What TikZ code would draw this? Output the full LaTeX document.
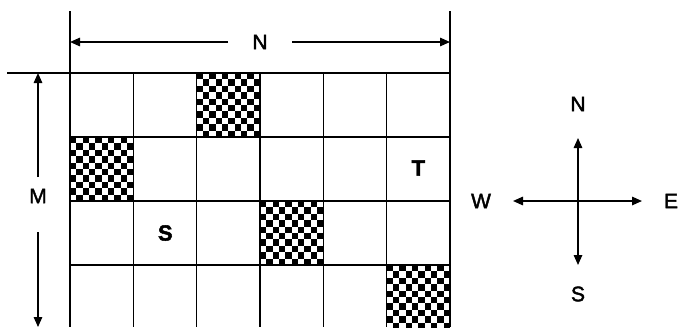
\documentclass[tikz,border=0pt]{standalone}
\usepackage{fontspec}
\setmainfont{Liberation Sans}
\newfontfamily\medfont[FakeBold=2]{Liberation Sans}
\newfontfamily\heavyfont[FakeBold=2]{Liberation Sans Bold}
\usetikzlibrary{arrows.meta}
\tikzset{
  gridline/.style={line width=1.4pt, black},
  arr/.style={line width=1.5pt, -{Triangle[length=10pt,width=8.5pt]}},
  lbl/.style={font=\fontsize{21}{25}\medfont, inner sep=0pt},
  blbl/.style={font=\fontsize{22}{26}\heavyfont, inner sep=0pt},
}
\newcommand{\chkcell}[2]{%
  \foreach \i in {0,...,9}{\foreach \j in {0,...,9}{%
    \pgfmathtruncatemacro{\chkp}{mod(\i+\j,2)}%
    \ifnum\chkp=0
      \fill[black] ({#1+\i*6.3333},{#2+\j*6.4}) rectangle ++(6.3333,6.4);
    \fi
  }}%
}
\begin{document}
\begin{tikzpicture}[x=1pt,y=-1pt]
\useasboundingbox (0,0) rectangle (679,327);
% checkered cells
\begin{scope}
\clip (0,0) rectangle (679,327);
\chkcell{196.667}{73}
\chkcell{70}{137}
\chkcell{260}{201}
\chkcell{386.667}{265}
\end{scope}
% grid
\draw[gridline] (70,11) -- (70,327);
\draw[gridline] (450,11) -- (450,327);
\draw[gridline] (7,73) -- (450,73);
\foreach \k in {1,...,5}{\draw[gridline] ({70+\k*63.333},73) -- ({70+\k*63.333},327);}
\foreach \y in {137,201,265}{\draw[gridline] (70,\y) -- (450,\y);}
% N dimension
\node[lbl] (ntop) at (260,42) {N};
\coordinate (nl0) at (228,42);
\coordinate (nr0) at (292,42);
\coordinate (nl) at (70,42);
\coordinate (nr) at (450,42);
\draw[arr] (nl0) -- (nl);
\draw[arr] (nr0) -- (nr);
% M dimension
\node[lbl] (mleft) at (38,196) {M};
\coordinate (mu0) at (38,177);
\coordinate (md0) at (38,232);
\coordinate (mu) at (38,73);
\coordinate (md) at (38,327);
\draw[arr] (mu0) -- (mu);
\draw[arr] (md0) -- (md);
% labels in grid
\node[blbl] (T) at (418.3,168) {T};
\node[blbl] (S) at (165.3,233) {S};
% compass
\coordinate (c) at (578,201);
\coordinate (cn) at (578,138);
\coordinate (cs) at (578,265);
\coordinate (cw) at (513,201);
\coordinate (ce) at (642,201);
\draw[arr] (c) -- (cn);
\draw[arr] (c) -- (cs);
\draw[arr] (c) -- (cw);
\draw[arr] (c) -- (ce);
\node[lbl] (lN) at (578,104) {N};
\node[lbl] (lS) at (578,294) {S};
\node[lbl] (lW) at (481,201) {W};
\node[lbl] (lE) at (671,201) {E};
\end{tikzpicture}
\end{document}
